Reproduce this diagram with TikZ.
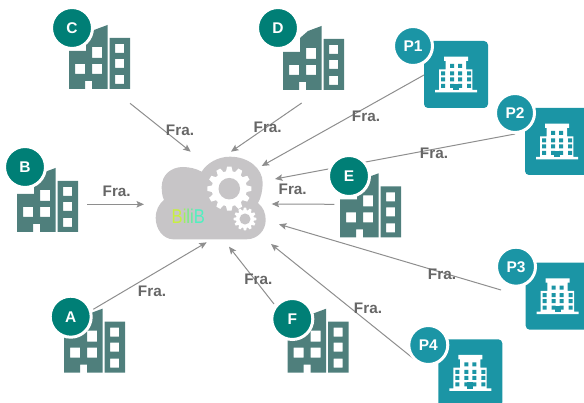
\documentclass[tikz,border=0pt]{standalone}
\usepackage{fontspec}
\setmainfont{Liberation Sans}
\usetikzlibrary{arrows.meta}
\definecolor{bldcol}{HTML}{4F7F7C}
\definecolor{badgecol}{HTML}{007F76}
\definecolor{hospcol}{HTML}{1B95A5}
\definecolor{cloudcol}{HTML}{C7C5C7}
\definecolor{linecol}{HTML}{8E8E8E}
\definecolor{labcol}{HTML}{666666}
\tikzset{
  conn/.style={draw=linecol,line width=1pt,-{Stealth[length=7.5pt,width=6.5pt,inset=1.5pt]}},
  flabel/.style={text=labcol,font=\bfseries\fontsize{15.3}{15.3}\selectfont,inner sep=0pt},
  badge/.style={circle,inner sep=0pt,text=white,line width=3pt,draw=white,font=\bfseries\fontsize{15.5}{15.5}\selectfont},
  letter/.style={inner sep=0pt,xscale=0.83,font=\fontsize{20}{20}\selectfont}
}
\newcommand{\bldg}[6]{% name, left, bottom, cx, cy, label
  \begin{scope}[shift={(#2,#3)}]
    \fill[bldcol,even odd rule] (0,0)--(0,-38)--(17,-38)--(17,-52)--(25,-59)--(38.5,-64)--(38.5,0)--(23,0)--(23,-8)--(16,-8)--(16,0)--cycle
      (23,-42) rectangle (33,-31) (6,-25) rectangle (16,-15) (23,-25) rectangle (33,-15);
    \fill[bldcol,even odd rule] (40.5,-51) rectangle (61,0)
      (46,-45) rectangle (55,-36) (46,-30) rectangle (55,-21) (46,-14) rectangle (55,-5);
  \end{scope}
  \node[badge,fill=badgecol,minimum size=41pt] (#1) at (#4,#5) {#6};
}
\newcommand{\hosp}[6]{% name, sqx, sqy, cx, cy, label
  \begin{scope}[shift={(#2,#3)}]
    \fill[hospcol,rounded corners=4pt] (0,0) rectangle (64,67);
    \fill[white] (11,49) rectangle (53,51.5) (15,28.3) rectangle (48.3,49.5) (21.7,20) rectangle (42,29) (20,15.7) rectangle (44,20);
    \foreach \wy in {23,30.5,36.5,43} {
      \fill[hospcol] (26,\wy) rectangle (30,\wy+4) (34,\wy) rectangle (38,\wy+4);
    }
    \foreach \wy in {30.5,36.5,43} {
      \fill[hospcol] (17,\wy) rectangle (21,\wy+4) (43,\wy) rectangle (47,\wy+4);
    }
    \fill[hospcol] (29,43) rectangle (35,49.5);
  \end{scope}
  \node[badge,fill=hospcol,minimum size=39pt] (#1) at (#4,#5) {#6};
}
\newcommand{\gearshape}[3]{% cx, cy, radius
  \begin{scope}[shift={(#1,#2)}]
    \foreach \ang in {0,30,...,330} {
      \fill[white,rotate=\ang] (-0.17*#3,0.7*#3) -- (-0.1*#3,#3) -- (0.1*#3,#3) -- (0.17*#3,0.7*#3) -- cycle;
    }
    \fill[white] (0,0) circle ({0.8*#3});
    \fill[cloudcol] (0,0) circle ({0.49*#3});
  \end{scope}
}
\begin{document}
\begin{tikzpicture}[x=1pt,y=-1pt]
\useasboundingbox (0,0) rectangle (584,403);
% cloud
\fill[cloudcol] (173,239.3)
  .. controls (163,239) and (155.7,229) .. (155.7,218)
  .. controls (155.7,210) and (159,204) .. (164,200)
  .. controls (162,196) and (161.7,191) .. (161.7,186.7)
  .. controls (161.7,175) and (171,167) .. (183,167)
  .. controls (190,167) and (197,169) .. (201.7,171.7)
  .. controls (207,163) and (218,156.7) .. (230,156.7)
  .. controls (248,156.7) and (262.7,168) .. (262.7,183)
  .. controls (262.7,190) and (261,198) .. (258,203)
  .. controls (263,207) and (265.7,213) .. (265.7,220)
  .. controls (265.7,231) and (257,239.3) .. (246.7,239.3)
  -- cycle;
\gearshape{229.3}{188.7}{22}
\gearshape{245}{219}{11.3}
% BiliB
\definecolor{bla}{HTML}{C8F040}
\definecolor{blb}{HTML}{A0F060}
\definecolor{blc}{HTML}{78F080}
\definecolor{bld}{HTML}{60F0A0}
\definecolor{ble}{HTML}{50F0C0}
\node[letter,text=bla] (bA) at (177.2,216.7) {B};
\node[letter,text=blb] (bB) at (184.6,216.7) {i};
\node[letter,text=blc] (bC) at (188.3,216.7) {l};
\node[letter,text=bld] (bD) at (192,216.7) {i};
\node[letter,text=ble] (bE) at (199.5,216.7) {B};
% connector ends
\coordinate (cS) at (130,103.3); \coordinate (cE) at (190.7,151.7);
\coordinate (dS) at (301.7,103); \coordinate (dE) at (231,151.7);
\coordinate (poS) at (424,75); \coordinate (poE) at (261.7,166);
\coordinate (ptS) at (515,134); \coordinate (ptE) at (275,179);
\coordinate (eS) at (334.3,204.3); \coordinate (eE) at (271.7,204);
\coordinate (pthS) at (501,290); \coordinate (pthE) at (279,224.3);
\coordinate (pfS) at (414.3,359.3); \coordinate (pfE) at (271,244);
\coordinate (fS) at (274,304); \coordinate (fE) at (229,246.7);
\coordinate (aS) at (93.3,309.3); \coordinate (aE) at (206.7,242.3);
\coordinate (bS) at (87,204.3); \coordinate (bE2) at (144,204.3);
\foreach \s/\e in {cS/cE,dS/dE,poS/poE,ptS/ptE,eS/eE,pthS/pthE,pfS/pfE,fS/fE,aS/aE,bS/bE2}
  \draw[conn] (\s) -- (\e);
% buildings
\bldg{C}{69}{89}{72}{28}{C}
\bldg{D}{283}{90}{278}{28}{D}
\bldg{B}{17}{232}{25}{167}{B}
\bldg{A}{64}{372.7}{70.7}{316.7}{A}
\bldg{F}{287.7}{372.7}{292.3}{319}{F}
\bldg{E}{340}{237.3}{349}{176}{E}
% hospitals
\hosp{Pa}{424}{41}{413}{46}{P1}
\hosp{Pb}{525}{108}{515}{113}{P2}
\hosp{Pc}{525.7}{262.7}{516}{266.7}{P3}
\hosp{Pd}{438.3}{339.3}{428.3}{345}{P4}
% labels
\node[flabel] (l1) at (180,130.5) {Fra.};
\node[flabel] (l2) at (267.7,127) {Fra.};
\node[flabel] (l3) at (366,116) {Fra.};
\node[flabel] (l4) at (434,153) {Fra.};
\node[flabel] (l5) at (292.7,189) {Fra.};
\node[flabel] (l6) at (116.7,191) {Fra.};
\node[flabel] (l7) at (442,274) {Fra.};
\node[flabel] (l8) at (368,308) {Fra.};
\node[flabel] (l9) at (258.3,279.5) {Fra.};
\node[flabel] (l10) at (152,291) {Fra.};
\end{tikzpicture}
\end{document}
